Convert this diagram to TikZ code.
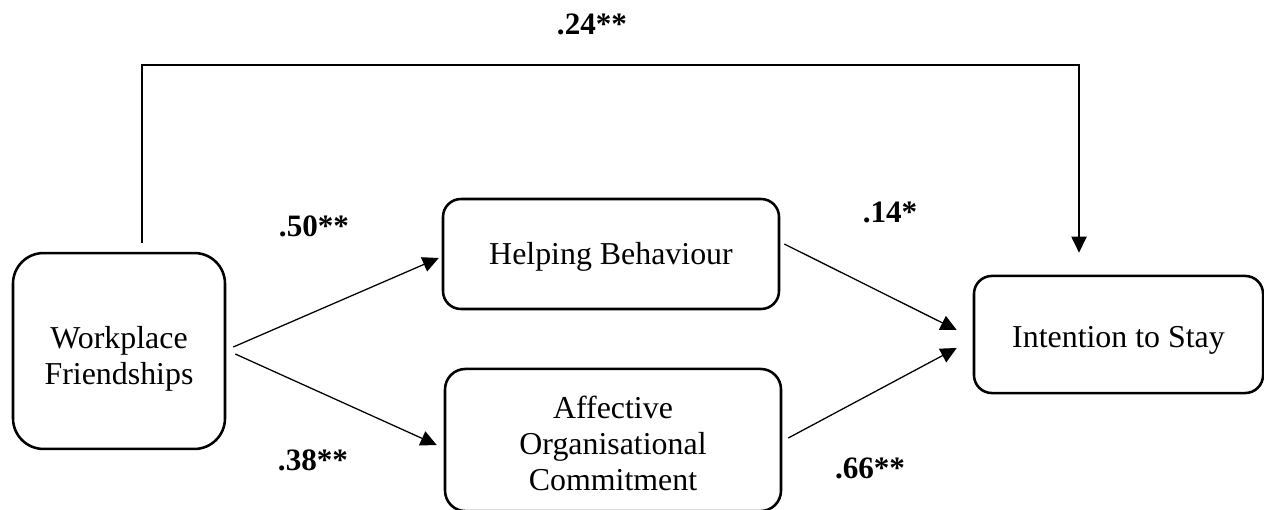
\documentclass[tikz,border=0pt]{standalone}
\usepackage{fontspec}
\setmainfont{Liberation Serif}
\usepackage{tikz}
\usetikzlibrary{arrows.meta, positioning, calc}

% pushes the first line of a box text down a little
\newcommand{\txtdrop}[1]{\rule{0pt}{#1}}

\begin{document}
\begin{tikzpicture}[
        x=0.392pt, y=-0.392pt,
        box/.style={draw=black, line width=1pt, rounded corners=7pt, align=center, inner sep=0pt, font=\fontsize{12.5}{14.1}\selectfont},
        coef/.style={inner sep=0pt, font=\fontsize{12.2}{13.8}\selectfont\bfseries},
        arrow/.style={-{Triangle[length=6.3pt, width=6pt]}, line width=0.5pt, draw=black}
    ]

        \useasboundingbox (0,0) rectangle (1264,510);

        \node[box, rounded corners=12pt, minimum width=83.1pt, minimum height=76.8pt] (friends) at (119,351) {\txtdrop{14.8pt}Workplace\\Friendships};
        \node[box, minimum width=131.7pt, minimum height=43.1pt] (helping) at (611,254) {\txtdrop{10.9pt}Helping Behaviour};
        \node[box, rounded corners=8pt, minimum width=131.7pt, minimum height=55.7pt] (commit) at (613,440) {\txtdrop{11.7pt}Affective\\Organisational\\Commitment};
        \node[box, minimum width=113.3pt, minimum height=45.9pt] (stay) at (1118.5,334.5) {\txtdrop{12.5pt}Intention to Stay};

        \coordinate (ridge) at (600,65);

        \node[coef] (direct) at (592,24) {.24**};
        \node[coef] (pathA) at (314,226) {.50**};
        \node[coef] (pathB) at (890,212) {.14*};
        \node[coef] (pathC) at (313,460) {.38**};
        \node[coef] (pathD) at (870,468) {.66**};

        \draw[arrow] ($(friends.north)+(23,-9)$) |- (ridge) -| ($(stay.north)+(-39.5,-22)$);
        \draw[arrow] ($(friends.east)+(7,-4)$) -- ($(helping.west)+(-3,4)$);
        \draw[arrow] ($(friends.east)+(9,3)$) -- ($(commit.west)+(-7,5)$);
        \draw[arrow] ($(helping.east)+(4,-10)$) -- ($(stay.west)+(-16,-4.5)$);
        \draw[arrow] ($(commit.east)+(6,-2)$) -- ($(stay.west)+(-16,13.5)$);
    \end{tikzpicture}
\end{document}
